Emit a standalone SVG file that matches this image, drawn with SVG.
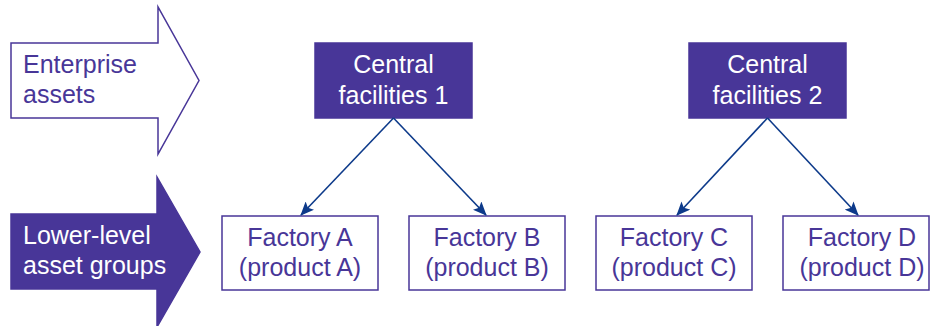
<svg xmlns="http://www.w3.org/2000/svg" width="930" height="326" viewBox="0 0 930 326">
<style>
text{font-family:"Liberation Sans",Arial,sans-serif;font-size:25px}
.dark{fill:#483698;stroke:#483698;stroke-width:1.5}
.light{fill:#ffffff;stroke:#483698;stroke-width:1.5}
.tw{fill:#ffffff}
.tp{fill:#483698}
.conn{stroke:#0d3a8a;stroke-width:1.6;fill:none;marker-end:url(#ah)}
</style>
<defs>
<marker id="ah" viewBox="0 0 14 12" refX="13" refY="6" markerWidth="14" markerHeight="12" markerUnits="userSpaceOnUse" orient="auto">
<path d="M0,0 L14,6 L0,12 L3,6 z" fill="#0d3a8a"/>
</marker>
</defs>
<g id="enterprise-assets">
<path class="light" d="M11,43 H158 V7 L199,80.5 L158,154 V118 H11 Z"/>
<text class="tp" x="23" y="73">Enterprise</text>
<text class="tp" x="23" y="103">assets</text>
</g>
<g id="lower-level">
<path class="dark" d="M11,214 H157 V177 L200,252 L157,327 V289 H11 Z"/>
<text class="tw" x="23" y="244">Lower-level</text>
<text class="tw" x="23" y="274">asset groups</text>
</g>
<g id="cf1">
<rect class="dark" x="315" y="43" width="157" height="75"/>
<text class="tw" x="393.5" y="73" text-anchor="middle">Central</text>
<text class="tw" x="393.5" y="104" text-anchor="middle">facilities 1</text>
</g>
<g id="cf2">
<rect class="dark" x="689" y="43" width="157" height="75"/>
<text class="tw" x="767.5" y="73" text-anchor="middle">Central</text>
<text class="tw" x="767.5" y="104" text-anchor="middle">facilities 2</text>
</g>
<g id="factory-a">
<rect class="light" x="222" y="216" width="156" height="74"/>
<text class="tp" x="300" y="246" text-anchor="middle">Factory A</text>
<text class="tp" x="300" y="276" text-anchor="middle">(product A)</text>
</g>
<g id="factory-b">
<rect class="light" x="409" y="216" width="156" height="74"/>
<text class="tp" x="487" y="246" text-anchor="middle">Factory B</text>
<text class="tp" x="487" y="276" text-anchor="middle">(product B)</text>
</g>
<g id="factory-c">
<rect class="light" x="596" y="216" width="156" height="74"/>
<text class="tp" x="674" y="246" text-anchor="middle">Factory C</text>
<text class="tp" x="674" y="276" text-anchor="middle">(product C)</text>
</g>
<g id="factory-d">
<rect class="light" x="783" y="216" width="146" height="74"/>
<text class="tp" x="862" y="246" text-anchor="middle">Factory D</text>
<text class="tp" x="862" y="276" text-anchor="middle">(product D)</text>
</g>
<g id="connectors">
<line class="conn" x1="393.5" y1="118" x2="301" y2="215"/>
<line class="conn" x1="393.5" y1="118" x2="486" y2="215"/>
<line class="conn" x1="767.5" y1="118" x2="677" y2="215"/>
<line class="conn" x1="767.5" y1="118" x2="858" y2="215"/>
</g>
</svg>
